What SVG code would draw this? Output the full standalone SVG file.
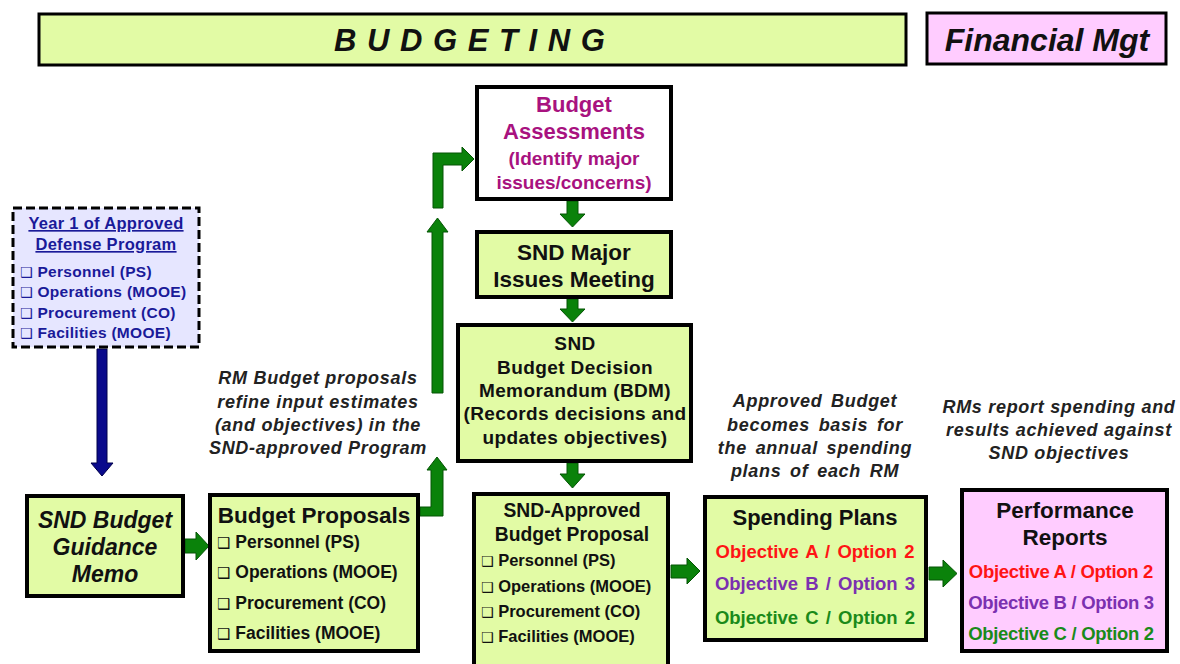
<svg xmlns="http://www.w3.org/2000/svg" width="1180" height="664" viewBox="0 0 1180 664">
<style>
.box{fill:#E2FBA5;stroke:#000;stroke-width:4}
.pink{fill:#FFCCFF;stroke:#000;stroke-width:4}
.t{font-family:"Liberation Sans",Arial,sans-serif;font-weight:bold;fill:#111}
.it{font-style:italic}
.c{text-anchor:middle}
.cb{font-family:"DejaVu Sans",sans-serif;font-weight:normal}
.blue{fill:#1A1A99}
.mag{fill:#A8127F}
.red{fill:#FF1414}
.pur{fill:#7B30B0}
.grn{fill:#1A8A1A}
.arr{fill:#0A820A;stroke:#045404;stroke-width:1}
.barr{fill:#0A0A8C;stroke:#00004A;stroke-width:1}
.note{font-size:18px;letter-spacing:0.7px;fill:#222}
</style>
<rect width="1180" height="664" fill="#fff"/>

<g id="banner-budgeting">
<rect x="39" y="14" width="867" height="51" class="box" style="stroke-width:3"/>
<text x="470" y="51" class="t it c" font-size="31" letter-spacing="1">B U D G E T I N G</text>
</g>
<g id="banner-financial">
<rect x="927" y="13" width="239" height="51" class="pink" style="stroke-width:3"/>
<text x="1047" y="51" class="t it c" font-size="32">Financial Mgt</text>
</g>

<g id="connectors">
<polygon class="barr" points="97,349 107,349 107,463 113,463 102,476 91,463 97,463"/>
<polygon class="arr" points="185,539 196,539 196,532 209,546 196,560 196,553 185,553"/>
<polygon class="arr" points="420,507 431,507 431,470 427,470 437,457 447,470 443,470 443,516 420,516"/>
<polygon class="arr" points="432,393 432,232 427,232 437.5,218 448,232 443,232 443,393"/>
<polygon class="arr" points="433,208 433,153 462,153 462,147 474,159 462,171 462,165 443,165 443,208"/>
<polygon class="arr" points="567,201 578,201 578,214 585,214 572.5,227 560,214 567,214"/>
<polygon class="arr" points="567,299 578,299 578,309 585,309 572.5,322 560,309 567,309"/>
<polygon class="arr" points="567,463 578,463 578,474 585,474 572.5,488 560,474 567,474"/>
<polygon class="arr" points="671,565 687,565 687,558 700,571 687,584 687,578 671,578"/>
<polygon class="arr" points="929,567 943,567 943,560 957,573.5 943,587 943,580 929,580"/>
</g>

<g id="year1-program">
<rect x="13" y="208" width="186" height="139" fill="#E6E6FF" stroke="#000" stroke-width="3" stroke-dasharray="9 4"/>
<text x="106" y="229" class="t c blue" font-size="16.5" letter-spacing="0.3" text-decoration="underline">Year 1 of Approved</text>
<text x="106" y="250" class="t c blue" font-size="16.5" letter-spacing="0.3" text-decoration="underline">Defense Program</text>
<text x="20" y="277" class="t blue" font-size="15.5" letter-spacing="0.3"><tspan class="cb" font-size="14">❑</tspan> Personnel (PS)</text>
<text x="20" y="297" class="t blue" font-size="15.5" letter-spacing="0.3"><tspan class="cb" font-size="14">❑</tspan> Operations (MOOE)</text>
<text x="20" y="318" class="t blue" font-size="15.5" letter-spacing="0.3"><tspan class="cb" font-size="14">❑</tspan> Procurement (CO)</text>
<text x="20" y="338" class="t blue" font-size="15.5" letter-spacing="0.3"><tspan class="cb" font-size="14">❑</tspan> Facilities (MOOE)</text>
</g>

<g id="guidance-memo">
<rect x="27" y="496" width="156" height="100" class="box"/>
<text x="105" y="528" class="t it c" font-size="23">SND Budget</text>
<text x="105" y="555" class="t it c" font-size="23">Guidance</text>
<text x="105" y="582" class="t it c" font-size="23">Memo</text>
</g>

<g id="budget-proposals">
<rect x="210" y="495" width="208" height="156" class="box"/>
<text x="314" y="523" class="t c" font-size="22.5">Budget Proposals</text>
<text x="217" y="548" class="t" font-size="17.5"><tspan class="cb" font-size="15">❑</tspan> Personnel (PS)</text>
<text x="217" y="578" class="t" font-size="17.5"><tspan class="cb" font-size="15">❑</tspan> Operations (MOOE)</text>
<text x="217" y="609" class="t" font-size="17.5"><tspan class="cb" font-size="15">❑</tspan> Procurement (CO)</text>
<text x="217" y="639" class="t" font-size="17.5"><tspan class="cb" font-size="15">❑</tspan> Facilities (MOOE)</text>
</g>

<g id="budget-assessments">
<rect x="477" y="87" width="194" height="112" fill="#fff" stroke="#000" stroke-width="4"/>
<text x="574" y="112" class="t c mag" font-size="22">Budget</text>
<text x="574" y="139" class="t c mag" font-size="22">Assessments</text>
<text x="574" y="165" class="t c mag" font-size="19">(Identify major</text>
<text x="574" y="189" class="t c mag" font-size="19">issues/concerns)</text>
</g>

<g id="major-issues">
<rect x="477" y="232" width="194" height="65" class="box"/>
<text x="574" y="260" class="t c" font-size="22.5">SND Major</text>
<text x="574" y="287" class="t c" font-size="22.5">Issues Meeting</text>
</g>

<g id="bdm">
<rect x="458" y="325" width="233" height="136" class="box"/>
<text x="575" y="350" class="t c" font-size="19" letter-spacing="0.4">SND</text>
<text x="575" y="374" class="t c" font-size="19" letter-spacing="0.4">Budget Decision</text>
<text x="575" y="397" class="t c" font-size="19" letter-spacing="0.4">Memorandum (BDM)</text>
<text x="575" y="420" class="t c" font-size="19" letter-spacing="0.4">(Records decisions and</text>
<text x="575" y="444" class="t c" font-size="19" letter-spacing="0.4">updates objectives)</text>
</g>

<g id="approved-proposal">
<rect x="474" y="494" width="194" height="176" class="box"/>
<text x="572" y="517" class="t c" font-size="19.3">SND-Approved</text>
<text x="572" y="541" class="t c" font-size="19.3">Budget Proposal</text>
<text x="481" y="566" class="t" font-size="16.5"><tspan class="cb" font-size="14">❑</tspan> Personnel  (PS)</text>
<text x="481" y="592" class="t" font-size="16.5"><tspan class="cb" font-size="14">❑</tspan> Operations  (MOOE)</text>
<text x="481" y="617" class="t" font-size="16.5"><tspan class="cb" font-size="14">❑</tspan> Procurement  (CO)</text>
<text x="481" y="642" class="t" font-size="16.5"><tspan class="cb" font-size="14">❑</tspan> Facilities  (MOOE)</text>
</g>

<g id="spending-plans">
<rect x="705" y="497" width="221" height="143" class="box"/>
<text x="815" y="525" class="t c" font-size="22">Spending Plans</text>
<text x="815" y="558" class="t c red" font-size="18.5" word-spacing="2">Objective A / Option 2</text>
<text x="815" y="590" class="t c pur" font-size="18.5" word-spacing="2">Objective B / Option 3</text>
<text x="815" y="624" class="t c grn" font-size="18.5" word-spacing="2">Objective C / Option 2</text>
</g>

<g id="performance-reports">
<rect x="962" y="490" width="205" height="161" class="pink"/>
<text x="1065" y="518" class="t c" font-size="22.5">Performance</text>
<text x="1065" y="545" class="t c" font-size="22.5">Reports</text>
<text x="1061" y="578" class="t c red" font-size="18.5" letter-spacing="-0.3">Objective A / Option 2</text>
<text x="1061" y="609" class="t c pur" font-size="18.5" letter-spacing="-0.3">Objective B / Option 3</text>
<text x="1061" y="640" class="t c grn" font-size="18.5" letter-spacing="-0.3">Objective C / Option 2</text>
</g>

<g id="notes">
<text class="t it c note"><tspan x="318" y="384">RM Budget proposals</tspan><tspan x="318" y="408">refine input estimates</tspan><tspan x="318" y="431">(and objectives) in the</tspan><tspan x="318" y="454">SND-approved Program</tspan></text>
<text class="t it c note" word-spacing="3"><tspan x="815" y="407">Approved Budget</tspan><tspan x="815" y="431">becomes basis for</tspan><tspan x="815" y="454">the annual spending</tspan><tspan x="815" y="477">plans of each RM</tspan></text>
<text class="t it c note"><tspan x="1059" y="413">RMs report spending and</tspan><tspan x="1059" y="436">results achieved against</tspan><tspan x="1059" y="459">SND objectives</tspan></text>
</g>
</svg>
